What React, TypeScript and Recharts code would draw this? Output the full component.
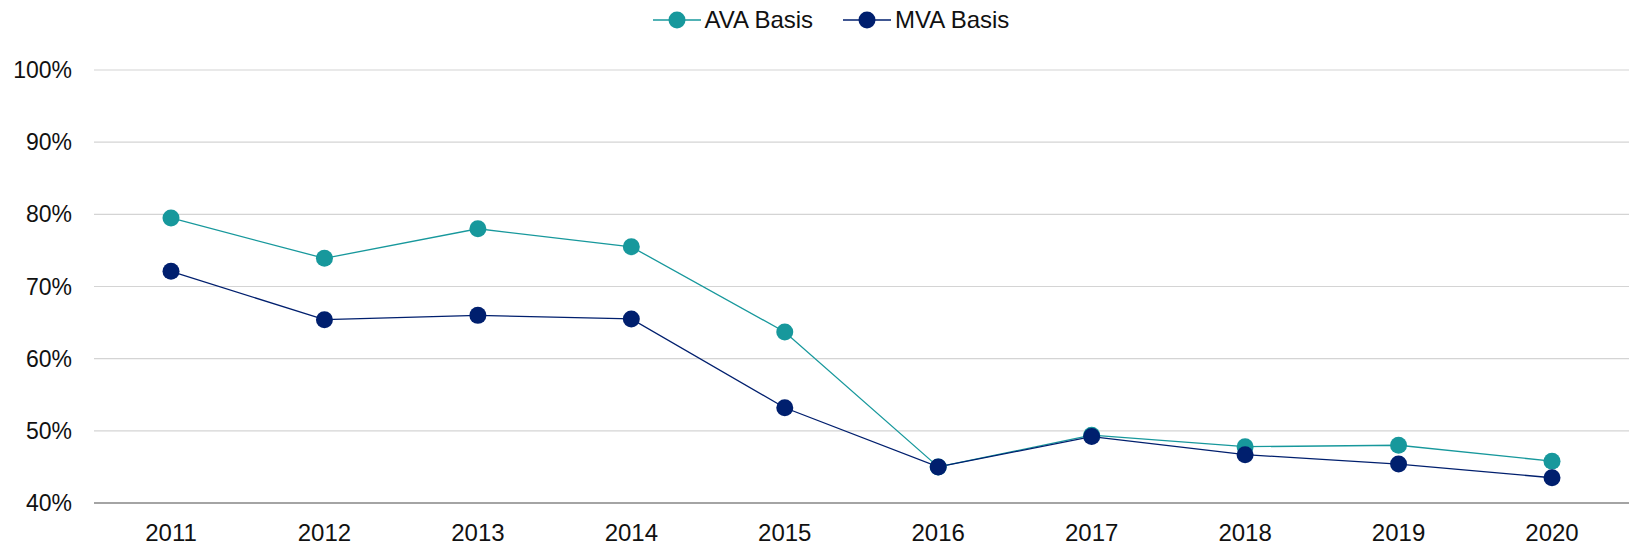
import { LineChart, Line, XAxis, YAxis, CartesianGrid, Legend } from "recharts";

const years = ["2011", "2012", "2013", "2014", "2015", "2016", "2017", "2018", "2019", "2020"];
const avaBasis = [79.5, 73.9, 78.0, 75.5, 63.7, 45.0, 49.4, 47.8, 48.0, 45.8];
const mvaBasis = [72.1, 65.4, 66.0, 65.5, 53.2, 45.0, 49.2, 46.7, 45.4, 43.5];
const yTicks = [40, 50, 60, 70, 80, 90, 100];

const AVA_COLOR = "#17989C";
const MVA_COLOR = "#001F6E";
const FONT = "'Liberation Sans', Arial, sans-serif";

const data = years.map((year, i) => ({ year, ava: avaBasis[i], mva: mvaBasis[i] }));

const legendItems = [
  { label: "AVA Basis", color: AVA_COLOR },
  { label: "MVA Basis", color: MVA_COLOR },
];

function LegendContent() {
  return (
    <div
      style={{
        display: "flex",
        justifyContent: "center",
        alignItems: "center",
        height: 30,
        paddingLeft: 33,
        fontFamily: FONT,
        fontSize: 24,
        color: "#111",
      }}
    >
      {legendItems.map((item, i) => (
        <div key={item.label} style={{ display: "flex", alignItems: "center", marginLeft: i ? 30 : 0 }}>
          <svg width={48} height={20} style={{ marginRight: 4 }}>
            <line x1={0} y1={10} x2={48} y2={10} stroke={item.color} strokeWidth={1.5} />
            <circle cx={24} cy={10} r={8.5} fill={item.color} />
          </svg>
          <span>{item.label}</span>
        </div>
      ))}
    </div>
  );
}

export default function App() {
  return (
    <div style={{ position: "absolute", left: 0, top: 0, width: 1631, height: 547, background: "#fff" }}>
      <LineChart width={1631} height={547} data={data} margin={{ top: 40, right: 2, bottom: 0, left: 0 }}>
        <Legend verticalAlign="top" content={<LegendContent />} wrapperStyle={{ top: 5 }} />
        <CartesianGrid vertical={false} stroke="#d4d4d4" strokeWidth={1.2} />
        <XAxis
          dataKey="year"
          height={44}
          padding={{ left: 77, right: 77 }}
          tickLine={false}
          tickSize={0}
          tickMargin={21}
          axisLine={{ stroke: "#8c8c8c", strokeWidth: 1.5 }}
          tick={{ fill: "#111", fontSize: 24, fontFamily: FONT }}
        />
        <YAxis
          width={94}
          domain={[40, 100]}
          ticks={yTicks}
          tickFormatter={(v) => `${v}%`}
          tickLine={false}
          axisLine={false}
          tickSize={0}
          tickMargin={22}
          tick={{ fill: "#111", fontSize: 23, fontFamily: FONT }}
        />
        <Line
          dataKey="ava"
          name="AVA Basis"
          stroke={AVA_COLOR}
          strokeWidth={1.3}
          dot={{ r: 8.5, fill: AVA_COLOR, stroke: "none" }}
          activeDot={false}
          isAnimationActive={false}
        />
        <Line
          dataKey="mva"
          name="MVA Basis"
          stroke={MVA_COLOR}
          strokeWidth={1.3}
          dot={{ r: 8.5, fill: MVA_COLOR, stroke: "none" }}
          activeDot={false}
          isAnimationActive={false}
        />
      </LineChart>
    </div>
  );
}
